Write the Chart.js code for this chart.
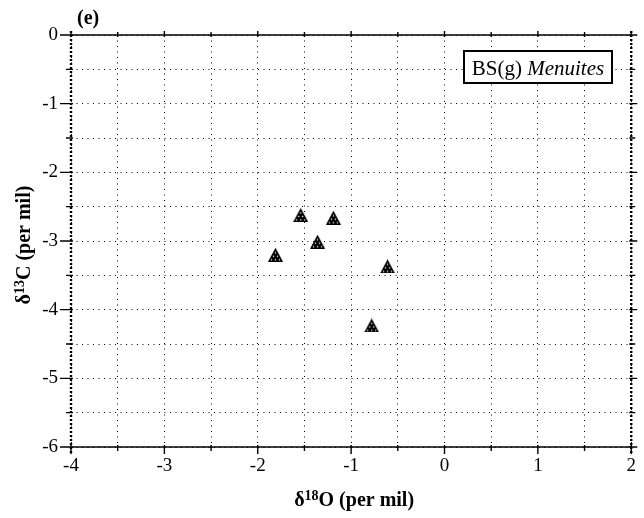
<!DOCTYPE html>
<html><head><meta charset="utf-8">
<script src="https://cdn.jsdelivr.net/npm/chart.js@4/dist/chart.umd.min.js"></script>
<style>html,body{margin:0;padding:0;background:#fff}#wrap{width:644px;height:518px;position:relative}</style>
</head><body><div id="wrap"><canvas id="c" width="644" height="518"></canvas></div>
<script>
// ---- data ----
const d18O = [-1.54, -1.19, -1.36, -1.81, -0.61, -0.78];
const d13C = [-2.62, -2.66, -3.01, -3.20, -3.37, -4.23];
const xTickLabels = [-4, -3, -2, -1, 0, 1, 2];
const yTickLabels = [0, -1, -2, -3, -4, -5, -6];
const seriesName = 'BS(g)';
const seriesTaxon = 'Menuites';
const panelLabel = '(e)';
const xTitleParts = ['δ', '18', 'O (per mil)'];
const yTitleParts = ['δ', '13', 'C (per mil)'];

const SERIF = '"Liberation Serif", "Times New Roman", serif';

function makeMarker(){
  const c = document.createElement('canvas'); c.width = 15; c.height = 14;
  const g = c.getContext('2d');
  g.fillStyle = '#000';
  g.beginPath(); g.moveTo(7.5, 0); g.lineTo(15, 14); g.lineTo(0, 14); g.closePath(); g.fill();
  g.fillStyle = '#fff';
  [[7.5,5],[5.5,8.5],[9.5,8.5],[3.5,12],[7.5,12],[11.5,12]].forEach(([x,y]) => {
    g.beginPath(); g.arc(x, y, 0.75, 0, Math.PI*2); g.fill();
  });
  return c;
}
const marker = makeMarker();

const points = d18O.map((x, i) => ({x, y: d13C[i]}));

const decor = {
  id: 'decor',
  afterDraw(chart){
    const {ctx, chartArea: a, scales: {x, y}} = chart;
    ctx.save();
    // frame
    ctx.strokeStyle = '#000';
    ctx.lineWidth = 1.6; ctx.setLineDash([]);
    ctx.beginPath();
    ctx.moveTo(a.left, a.top); ctx.lineTo(a.right, a.top);
    ctx.moveTo(a.left, a.bottom); ctx.lineTo(a.right, a.bottom);
    ctx.stroke();
    ctx.lineWidth = 2.4; ctx.setLineDash([2, 2]);
    ctx.beginPath();
    ctx.moveTo(a.left, a.top - 4); ctx.lineTo(a.left, a.bottom + 6);
    ctx.moveTo(a.right, a.top - 4); ctx.lineTo(a.right, a.bottom + 6);
    ctx.stroke();
    ctx.setLineDash([]);
    // tick marks
    ctx.lineWidth = 1.4;
    ctx.beginPath();
    for (let v = x.min; v <= x.max + 1e-9; v += 0.5) {
      const px = x.getPixelForValue(v);
      const major = Math.abs(v - Math.round(v)) < 1e-9;
      ctx.moveTo(px, a.bottom - 2); ctx.lineTo(px, a.bottom + (major ? 7 : 4));
      ctx.moveTo(px, a.top - (major ? 4 : 3)); ctx.lineTo(px, a.top + 2);
    }
    for (let v = y.min; v <= y.max + 1e-9; v += 0.5) {
      const py = y.getPixelForValue(v);
      const major = Math.abs(v - Math.round(v)) < 1e-9;
      ctx.moveTo(a.left - (major ? 11 : 5), py); ctx.lineTo(a.left + 2, py);
      ctx.moveTo(a.right - 2, py); ctx.lineTo(a.right + (major ? 6 : 4), py);
    }
    ctx.stroke();

    // panel label
    ctx.fillStyle = '#000';
    ctx.font = 'bold 20px ' + SERIF;
    ctx.textBaseline = 'alphabetic'; ctx.textAlign = 'left';
    ctx.fillText(panelLabel, 77, 24);

    // axis titles with superscripts
    function drawSup(parts, cx, cy){
      const big = 'bold 20px ' + SERIF, small = 'bold 14px ' + SERIF;
      ctx.font = big; const w0 = ctx.measureText(parts[0]).width;
      ctx.font = small; const w1 = ctx.measureText(parts[1]).width;
      ctx.font = big; const w2 = ctx.measureText(parts[2]).width;
      let sx = cx - (w0 + w1 + w2) / 2;
      ctx.textAlign = 'left'; ctx.textBaseline = 'alphabetic';
      ctx.font = big; ctx.fillText(parts[0], sx, cy); sx += w0;
      ctx.font = small; ctx.fillText(parts[1], sx, cy - 6); sx += w1;
      ctx.font = big; ctx.fillText(parts[2], sx, cy);
    }
    drawSup(xTitleParts, (a.left + a.right) / 2 + 3, 506);
    ctx.save();
    ctx.translate(30, (a.top + a.bottom) / 2 + 4);
    ctx.rotate(-Math.PI / 2);
    drawSup(yTitleParts, 0, 0);
    ctx.restore();

    // legend box
    const bx = 464, by = 51, bw = 148, bh = 32;
    ctx.fillStyle = '#fff'; ctx.fillRect(bx, by, bw, bh);
    ctx.strokeStyle = '#000'; ctx.lineWidth = 2;
    ctx.strokeRect(bx, by, bw, bh);
    ctx.fillStyle = '#000';
    ctx.font = '21px ' + SERIF;
    const t1 = seriesName + ' ';
    const w1 = ctx.measureText(t1).width;
    ctx.font = 'italic 21px ' + SERIF;
    const w2 = ctx.measureText(seriesTaxon).width;
    let tx = bx + (bw - w1 - w2) / 2;
    ctx.font = '21px ' + SERIF; ctx.fillText(t1, tx, by + 24);
    ctx.font = 'italic 21px ' + SERIF; ctx.fillText(seriesTaxon, tx + w1, by + 24);
    ctx.restore();
  }
};

new Chart(document.getElementById('c'), {
  type: 'scatter',
  data: { datasets: [{
    label: seriesName + ' ' + seriesTaxon,
    data: points,
    pointStyle: marker,
    pointRadius: 7,
    backgroundColor: '#000',
    borderColor: '#000'
  }]},
  options: {
    responsive: false,
    animation: false,
    devicePixelRatio: 1,
    layout: { padding: { left: 0, right: 11, top: 35, bottom: 0 } },
    plugins: { legend: { display: false }, tooltip: { enabled: false } },
    scales: {
      x: {
        type: 'linear', position: 'bottom', min: -4, max: 2,
        afterFit: s => { s.height = 71; },
        ticks: {
          stepSize: 0.5, autoSkip: false, maxRotation: 0, padding: 8,
          color: '#000', font: { family: SERIF, size: 19 },
          callback: v => xTickLabels.includes(v) ? String(v) : ''
        },
        grid: { color: '#000', lineWidth: 1, drawTicks: false },
        border: { display: false, dash: [1, 4.5] }
      },
      y: {
        type: 'linear', position: 'left', min: -6, max: 0,
        afterFit: s => { s.width = 71; },
        ticks: {
          stepSize: 0.5, autoSkip: false, padding: 13,
          color: '#000', font: { family: SERIF, size: 19 },
          callback: v => yTickLabels.includes(v) ? String(v) : ''
        },
        grid: { color: '#000', lineWidth: 1, drawTicks: false },
        border: { display: false, dash: [1, 4.5] }
      }
    }
  },
  plugins: [decor]
});
</script>
</body></html>
